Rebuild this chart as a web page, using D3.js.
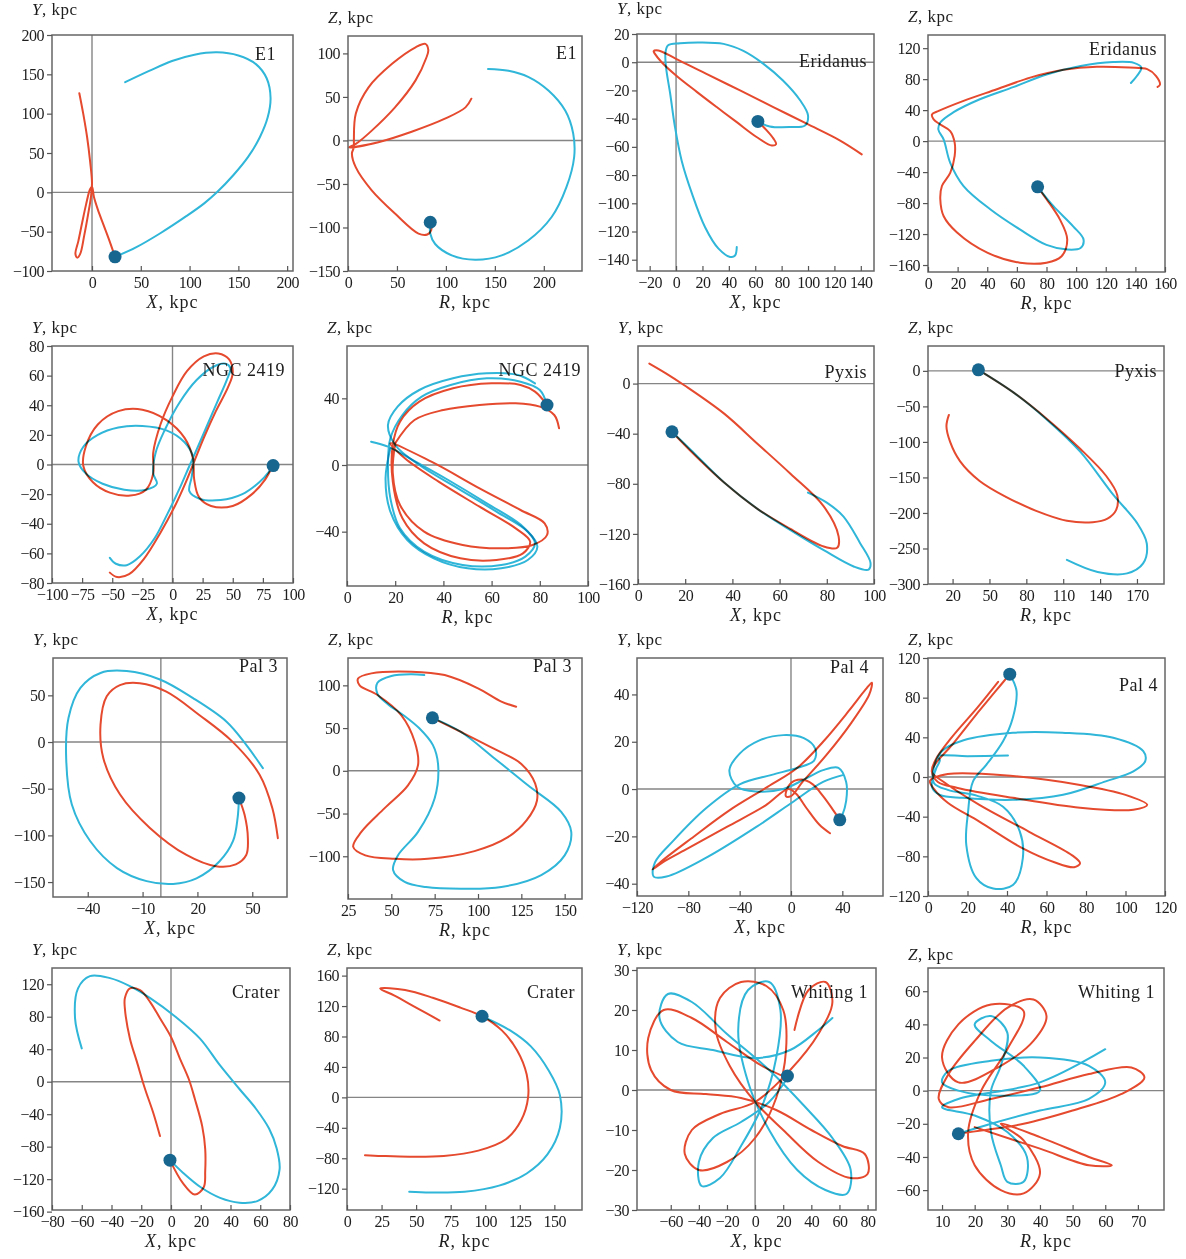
<!DOCTYPE html>
<html lang="en">
<head>
<meta charset="UTF-8">
<title>Orbits of distant globular clusters</title>
<script src="https://d3js.org/d3.v7.min.js"></script>
<style>
  body { margin: 0; background: #fff; }
  svg text { font-family: 'Liberation Serif', 'Times New Roman', serif; fill: #1e1e1e; }
  .frame { fill: none; stroke: #666; stroke-width: 1.5; }
  .zero { stroke: #858585; stroke-width: 1.4; }
  .orbit { fill: none; stroke-width: 2; stroke-linejoin: round; stroke-linecap: round; mix-blend-mode: multiply; }
  .tick line { stroke: #555; stroke-width: 1.2; }
</style>
</head>
<body>
<svg id="chart" width="1186" height="1259"></svg>
<script>
// ---- panel names / planes ----
const panelNames = ["E1", "E1", "Eridanus", "Eridanus", "NGC 2419", "NGC 2419", "Pyxis", "Pyxis",
                    "Pal 3", "Pal 3", "Pal 4", "Pal 4", "Crater", "Crater", "Whiting 1", "Whiting 1"];
const planes = ["XY", "RZ", "XY", "RZ", "XY", "RZ", "XY", "RZ", "XY", "RZ", "XY", "RZ", "XY", "RZ", "XY", "RZ"];

// ---- axis ranges (kpc) ----
const xDomains = [[-41, 206], [0, 239], [-29.6, 150], [0, 160],
                  [-100, 100], [0, 100], [0, 100], [0, 192],
                  [-59, 69], [25, 160], [-120, 71.7], [0, 120],
                  [-80, 80], [0, 170], [-84, 86], [5.7, 78]];
const yDomains = [[-100, 200], [-150, 120], [-148, 20], [-169, 137],
                  [-80, 80], [-72.6, 71.4], [-160, 30], [-300, 35],
                  [-166, 90], [-150, 132], [-45.2, 55.4], [-120, 120],
                  [-158, 140], [-148, 170], [-30, 30.5], [-72, 74]];

// ---- tick labels ----
const xTicks = [[0, 50, 100, 150, 200], [0, 50, 100, 150, 200], [-20, 0, 20, 40, 60, 80, 100, 120, 140], [0, 20, 40, 60, 80, 100, 120, 140, 160],
                [-100, -75, -50, -25, 0, 25, 50, 75, 100], [0, 20, 40, 60, 80, 100], [0, 20, 40, 60, 80, 100], [20, 50, 80, 110, 140, 170],
                [-40, -10, 20, 50], [25, 50, 75, 100, 125, 150], [-120, -80, -40, 0, 40], [0, 20, 40, 60, 80, 100, 120],
                [-80, -60, -40, -20, 0, 20, 40, 60, 80], [0, 25, 50, 75, 100, 125, 150], [-60, -40, -20, 0, 20, 40, 60, 80], [10, 20, 30, 40, 50, 60, 70]];
const yTicks = [[-100, -50, 0, 50, 100, 150, 200], [-150, -100, -50, 0, 50, 100], [-140, -120, -100, -80, -60, -40, -20, 0, 20], [-160, -120, -80, -40, 0, 40, 80, 120],
                [-80, -60, -40, -20, 0, 20, 40, 60, 80], [-40, 0, 40], [-160, -120, -80, -40, 0], [-300, -250, -200, -150, -100, -50, 0],
                [-150, -100, -50, 0, 50], [-100, -50, 0, 50, 100], [-40, -20, 0, 20, 40], [-120, -80, -40, 0, 40, 80, 120],
                [-160, -120, -80, -40, 0, 40, 80, 120], [-120, -80, -40, 0, 40, 80, 120, 160], [-30, -20, -10, 0, 10, 20, 30], [-60, -40, -20, 0, 20, 40, 60]];

// ---- orbits: [x, y] in kpc ----
const e1xyCyan = [[23.6,-82],[45,-70],[70,-52],[97,-30],[115,-14],[128,0],[145,22],[160,45],[172,70],[180,95],[183,120],[179,145],[168,163],[150,174],[128,178],[105,175],[82,167],[58,154],[34,140]];
const e1xyRed = [[23.6,-82],[18,-62],[12,-42],[6,-22],[2,-6],[0,7],[-2,4],[-6,-15],[-10,-38],[-14,-62],[-17,-78],[-15,-83],[-12,-78],[-8,-55],[-4,-28],[-1,-5],[0,12],[-2,40],[-5,70],[-9,100],[-13,126]];
const e1xyDot = [23.6, -82];

const e1rzCyan = [[84,-94],[84,-107],[89,-119],[106,-132],[130,-137],[157,-132],[184,-115],[208,-88],[223,-54],[231,-19],[230,8],[222,34],[205,57],[184,73],[164,80],[143,82]];
const e1rzRed = [[84,-94],[85,-103],[81,-108],[72,-107],[48,-84],[24,-57],[8,-31],[4,-15],[6,-8],[6,0],[8,31],[21,61],[45,88],[69,107],[79,111],[82,104],[80,95],[69,69],[48,38],[24,11],[8,-4],[1,-8],[31,-2],[65,10],[99,25],[120,38],[126,48]];
const e1rzDot = [84, -94];

const eriXyCyan = [[62,-42],[71,-45.5],[86,-46],[97.7,-44.8],[100,-37.7],[94,-27],[81,-13],[66,-1],[51,8],[36,13],[18,14],[3,13.4],[-6,12],[-8,7],[-7.6,-3.5],[-4.5,-22],[-0.8,-46],[4.3,-70],[12,-93],[22,-117],[32,-132],[41,-138],[44.7,-137],[46,-131]];
const eriXyRed = [[62,-42],[68.7,-48.3],[73.7,-54],[75.8,-58],[72.5,-59],[61,-53],[46,-42.5],[30.8,-31.8],[15.7,-21],[0,-9.4],[-10.9,0],[-16,5.9],[-17,7.8],[-13.4,8.3],[0,2.4],[23,-8.3],[48.5,-20],[73.7,-31.8],[99,-43.6],[124,-55.4],[140.7,-65.3]];
const eriXyDot = [62, -42];

const eriRzCyan = [[74,-59],[84.7,-84],[98,-110],[105,-127],[103,-138],[94,-140],[80,-134],[62,-114],[42,-88],[24,-58],[15,-28],[10.6,2],[7,15],[8.3,24],[17,37],[35,54],[58,70],[80,86],[103,97],[125,102],[139,101],[144,95],[141,84],[137,75]];
const eriRzRed = [[74,-59],[80,-75],[89,-101],[94,-127],[90,-149],[80,-157],[62,-157],[40,-144],[19.6,-118],[10.6,-97],[8.3,-75],[9.4,-58],[15,-41],[18,-19],[18,-2],[15,13],[8.3,21.5],[3.8,28],[2.7,34.5],[7.2,39],[24,52],[46.5,67],[69,82],[91.5,92],[114,96],[136,95],[148,93],[154,84],[156.6,73],[155,70]];
const eriRzDot = [74, -59];

const ngcXyCyan = [[-52,-63],[-47,-67],[-38,-68],[-27,-62],[-15,-50],[-4,-33],[6,-16],[14,-1],[20,10],[28,25],[37,42],[45,57],[48,65],[44,68],[34,66],[20,57],[6,42],[-6,24],[-14,8],[-16,-6],[-13,-13],[-22,-17],[-40,-17],[-58,-13],[-72,-6],[-78,2],[-74,12],[-62,20],[-45,25],[-25,26],[-5,23],[10,15],[17,5],[16,-8],[14,-18],[22,-23],[40,-24],[58,-20],[72,-12],[80,-5],[83,-1]];
const ngcXyRed = [[-52,-73],[-46,-76],[-36,-74],[-24,-64],[-10,-46],[2,-28],[11,-12],[18,2],[26,18],[36,36],[46,52],[50,62],[47,71],[38,75],[26,73],[12,63],[0,46],[-10,27],[-16,8],[-16,-6],[-22,-17],[-35,-21],[-52,-19],[-66,-12],[-74,-1],[-72,12],[-62,27],[-45,36],[-25,37],[-5,30],[10,18],[17,4],[18,-10],[22,-22],[32,-28],[50,-28],[66,-20],[77,-10],[83,-1]];
const ngcXyDot = [83.5, -0.7];

const ngcRzCyan = [[83,36],[80,45],[72,50],[58,52],[43,48],[31,41],[23,30],[18,16],[17,0],[18,-20],[22,-38],[32,-52],[48,-60],[64,-60],[74,-55],[78,-47],[73,-37],[58,-23],[42,-9],[26,4],[17,11],[10,14]];
const ngcRzCyan2 = [[18,10],[16,-8],[18,-28],[25,-45],[36,-56],[50,-62],[64,-62],[75,-57],[79,-49],[75,-40],[62,-28],[46,-14],[30,0],[20,12],[17,24],[21,35],[30,45],[44,52],[58,55],[71,54],[78,49]];
const ngcRzRed = [[20,13],[28,27],[40,33],[55,36],[70,37],[80,35],[86,30],[88,22]];
const ngcRzRed2 = [[83,36],[78,44],[72,48],[60,49],[44,46],[30,38],[22,26],[19,12],[19,-10],[23,-32],[32,-47],[47,-56],[62,-57],[73,-53],[76,-46],[70,-38],[55,-25],[38,-10],[24,4],[18,13],[35,2],[55,-14],[72,-27],[82,-35],[83,-42],[77,-48],[65,-50],[48,-48],[32,-40],[22,-24],[19,-5],[20,13]];
const ngcRzDot = [83, 36];

const pyxXyCyan = [[14.4,-38.5],[22.4,-53],[36.5,-79],[50.6,-100],[64.6,-117],[78.7,-133],[91.4,-146],[97.7,-148.5],[98.5,-143],[94,-127],[87,-106],[80,-95],[72,-87]];
const pyxXyRed = [[4.8,16],[12,8],[19.6,-1.3],[36.5,-24],[50.6,-48],[64.6,-72],[78.7,-98],[85,-122],[84.4,-131],[78.7,-130],[64.6,-116],[50.6,-100],[36.5,-79],[22.4,-54],[14.4,-38.5]];
const pyxXyDot = [14.4, -38.5];

const pyxRzCyan = [[41,1.4],[70,-31],[97,-69],[124,-114],[151,-175],[170,-214],[178,-243],[175,-271],[162,-285],[138,-283],[113,-266]];
const pyxRzRed = [[41,1.4],[70,-31],[97,-68],[124,-110],[145,-148],[154,-175],[153,-196],[146,-208],[134,-213],[113,-211],[88,-197],[63,-177],[42,-155],[26,-127],[18,-100],[15,-78],[17,-62]];
const pyxRzDot = [41, 1.4];

const pal3XyCyan = [[42.7,-60],[42,-81],[39.5,-106],[32,-128],[19.5,-146],[6.7,-152],[-7.8,-149],[-24,-135],[-38.7,-106],[-48.7,-67],[-51.8,-17],[-50.5,26],[-44,58],[-33,74],[-18.7,76],[-0.5,67],[17.6,47],[35.8,22],[46.7,-3],[55.8,-28]];
const pal3XyRed = [[42.7,-60],[45.8,-78],[47.6,-103],[46.7,-121],[41,-131],[30,-133],[14,-121],[-6,-92],[-22.4,-56],[-31.5,-17],[-33,18.6],[-29.6,49],[-22.4,61],[-11.5,63],[3,54],[21,29],[39,0.7],[54,-35],[61,-71],[64,-103]];
const pal3XyDot = [42.7, -60];

const pal3RzCyan = [[73.7,62],[90,45.7],[109.6,14.5],[128.8,-17],[148,-48],[153.8,-71.5],[150,-99],[136.5,-122],[113.5,-136],[90,-138],[70,-136],[57.7,-130],[51,-116],[53.8,-99],[65.4,-71.5],[75,-32],[77,6.6],[74,30],[66,50],[57,65],[48,78],[42,90],[42,103],[50,111],[61.5,113],[69,112]];
const pal3RzRed = [[73.7,62],[90,45.7],[110,25],[125,8],[133,-15],[134,-35],[128,-58],[117,-78],[98,-94],[71,-103],[52,-103],[35,-99],[28,-89],[32.7,-71.5],[46,-44],[59.6,-17],[65.4,6.6],[63.5,34],[55.8,65],[42,88.7],[31.7,100],[30.8,108],[38.5,114],[61.5,116],[80.8,112],[100,96.5],[113.5,81],[122,75]];
const pal3RzDot = [73.7, 62];

const pal4XyCyan = [[41,6],[25,3],[0,-6],[-27,-16],[-66,-29],[-97,-37],[-107,-37],[-106,-31],[-92,-22],[-66,-8],[-40,2],[-15,6],[5,9],[18,12],[19,17],[10,21.5],[-6,22.8],[-25,20.5],[-40,15],[-48,8],[-42,1],[-27,-1],[-6,0],[10,4],[25,8],[37,9],[43,3],[43,-5],[40,-11],[38,-13]];
const pal4XyRed = [[30.4,-18.7],[22,-15],[12,-8],[4,-2],[-2,0],[-20,-7],[-50,-16],[-80,-25],[-100,-31],[-108,-34],[-102,-31],[-78,-21],[-48,-9],[-18,1],[5,9],[25,20],[45,33],[58,42],[63,45],[61,40],[47,28],[27,14],[9,3],[0,-3],[-4,-3],[-1,2],[8,4],[17,2],[25,-3],[33,-9],[38,-13]];
const pal4XyDot = [38, -13];

const pal4RzCyan = [[41.4,103.7],[44.8,87],[43,60],[38,36],[29.6,12.5],[22.8,-4.4],[20.3,-35],[19.4,-68.6],[24.5,-102],[33,-112.5],[43,-109],[48,-82],[46.5,-55],[38,-30],[25,-19],[10,-13],[3,-6],[3,10],[7,26],[18,37],[43,44.6],[68,44.6],[93.8,39.5],[109,26],[110,16],[104,5.7],[90,-4.4],[68.4,-18],[43,-23],[17.7,-21],[6,-18],[2,-10],[4,8],[6,17],[5,21],[20,21],[40.5,21.6]];
const pal4RzRed = [[35.5,96],[25,70],[12,40],[4,18],[2,5],[8,-5],[26,-28],[51,-55],[73,-79],[77,-87],[74,-91],[64,-86],[48,-72],[26,-45],[10,-26],[3,-12],[1,-4],[10,3],[43,1],[77,-8],[100,-18],[111,-28],[104,-33],[77,-31],[43,-21],[15,-11],[5,-5],[2,5],[4,14],[12,32],[24,62],[34,86],[41.4,103.7]];
const pal4RzDot = [41.4, 103.7];

const craXyCyan = [[-0.7,-96.6],[8,-112],[20,-130],[33,-143],[46,-149],[58,-147],[68,-133],[73,-108],[71,-82],[66,-58],[57,-33],[46,-9],[33,20],[19.5,53],[3,80],[-14,103],[-28,118],[-41,127.5],[-54.5,130],[-62.5,115],[-64.5,78],[-60,41]];
const craXyRed = [[-7.4,-67],[-12,-38],[-17.5,-8.7],[-23,25],[-27.6,53],[-31,90],[-31,103],[-27.6,115],[-20.8,112.7],[-14,98],[-7.4,78],[0,55],[6,28.5],[12,3],[16,-21],[21,-55],[23,-83],[23,-110],[22,-130],[16,-139],[8,-125],[-0.7,-96.6]];
const craXyDot = [-0.7, -96.6];

const craRzCyan = [[97.7,106.6],[118,88],[133,67],[146,35],[154,3],[154,-40],[145,-75],[130,-100],[110,-116],[85,-124],[60,-125],[45,-124]];
const craRzRed = [[67,101],[50,118],[34,134],[24,143],[42,141],[62,131],[82,118],[97.7,106.6],[112,88],[123,62],[130,30],[131,0],[126,-30],[115,-55],[95,-70],[70,-77],[45,-78],[25,-77],[13,-76]];
const craRzDot = [97.7, 106.6];

const whiXyCyan = [[23,3],[10,-3],[-10,-8],[-30,-12],[-40,-18],[-38,-24],[-25,-22],[-10,-14],[5,-4],[15,8],[18,20],[10,27],[-5,25],[-12,15],[-5,2],[10,-10],[30,-20],[50,-25],[65,-26],[68,-20],[55,-12],[35,-4],[10,5],[-20,14],[-45,22],[-62,24],[-68,18],[-55,12],[-30,10],[0,8],[25,10],[45,15],[55,18]];
const whiXyRed = [[23,3],[5,6],[-20,12],[-45,18],[-65,20],[-76,13],[-74,5],[-60,0],[-35,-1],[-10,-2],[15,-5],[40,-10],[62,-14],[78,-16],[80,-21],[68,-22],[45,-18],[20,-10],[0,-3],[-18,6],[-28,15],[-25,23],[-10,27],[8,26],[20,20],[22,10],[15,-2],[0,-12],[-20,-18],[-40,-20],[-50,-16],[-45,-10],[-25,-6],[0,-3],[25,5],[45,14],[55,22],[50,27],[38,25],[28,15]];
const whiXyDot = [23, 3.5];

const whiRzCyan = [[15,-26],[25,-20],[40,-12],[55,-5],[60,5],[55,15],[40,20],[25,18],[12,12],[10,5],[15,0],[28,-3],[40,0],[35,15],[25,30],[20,40],[25,45],[30,35],[28,15],[25,0],[25,-25],[28,-45],[30,-55],[35,-55],[36,-40],[30,-25],[20,-15],[10,-10],[15,-5],[40,5],[60,25]];
const whiRzRed = [[15,-26],[22,-24],[35,-20],[50,-12],[65,-2],[72,8],[68,14],[55,10],[40,2],[25,-5],[12,-10],[9,-5],[12,10],[20,30],[30,50],[38,55],[42,45],[38,30],[28,15],[15,5],[10,20],[15,40],[25,52],[35,48],[30,25],[22,0],[18,-25],[20,-45],[28,-60],[35,-62],[40,-50],[35,-30],[28,-20],[40,-28],[55,-40],[62,-45],[55,-45],[40,-35],[20,-22]];
const whiRzDot = [15, -26];

const redPaths = [[e1xyRed], [e1rzRed], [eriXyRed], [eriRzRed], [ngcXyRed], [ngcRzRed, ngcRzRed2], [pyxXyRed], [pyxRzRed],
                  [pal3XyRed], [pal3RzRed], [pal4XyRed], [pal4RzRed], [craXyRed], [craRzRed], [whiXyRed], [whiRzRed]];
const cyanPaths = [[e1xyCyan], [e1rzCyan], [eriXyCyan], [eriRzCyan], [ngcXyCyan], [ngcRzCyan, ngcRzCyan2], [pyxXyCyan], [pyxRzCyan],
                   [pal3XyCyan], [pal3RzCyan], [pal4XyCyan], [pal4RzCyan], [craXyCyan], [craRzCyan], [whiXyCyan], [whiRzCyan]];
const dots = [e1xyDot, e1rzDot, eriXyDot, eriRzDot, ngcXyDot, ngcRzDot, pyxXyDot, pyxRzDot,
              pal3XyDot, pal3RzDot, pal4XyDot, pal4RzDot, craXyDot, craRzDot, whiXyDot, whiRzDot];

// ---- layout: frame [left, top, right, bottom] per panel, label placement ----
const boxes = [[52, 35, 293, 271], [348, 36, 582, 271], [637, 34, 874, 271], [928, 35, 1165, 272],
               [52, 346, 293, 583], [347, 346, 588, 586], [638, 346, 874, 584], [928, 346, 1164, 584],
               [53, 658, 287, 897], [348, 658, 582, 899], [637, 658, 883, 896], [928, 658, 1165, 896],
               [52, 968, 290, 1210], [347, 968, 582, 1210], [637, 968, 876, 1210], [928, 968, 1164, 1210]];
const labelDy = [25, 23, 33, 20, 30, 30, 32, 31, 14, 14, 15, 33, 30, 30, 30, 30];
const labelInset = [17, 5, 7, 8, 8, 7, 7, 7, 9, 10, 14, 7, 10, 7, 8, 9];
const yTitleDy = [20, 13, 20, 13, 13, 13, 13, 13, 13, 13, 13, 13, 13, 13, 13, 8];

const RED = "#e5492e", CYAN = "#2fb6d8", DOT = "#17668f";

const svg = d3.select("#chart");
const fmt = d => d < 0 ? "\u2212" + Math.abs(d) : String(d);
const line = d3.line().curve(d3.curveCatmullRom.alpha(0.5));

panelNames.forEach((name, i) => {
    const b = boxes[i];
    const x = d3.scaleLinear().domain(xDomains[i]).range([b[0], b[2]]);
    const y = d3.scaleLinear().domain(yDomains[i]).range([b[3], b[1]]);
    const g = svg.append("g");

    g.append("clipPath").attr("id", "clip" + i)
        .append("rect").attr("x", b[0]).attr("y", b[1]).attr("width", b[2] - b[0]).attr("height", b[3] - b[1]);

    // zero lines
    if (xDomains[i][0] < 0 && xDomains[i][1] > 0)
        g.append("line").attr("class", "zero").attr("x1", x(0)).attr("x2", x(0)).attr("y1", b[1]).attr("y2", b[3]);
    if (yDomains[i][0] < 0 && yDomains[i][1] > 0)
        g.append("line").attr("class", "zero").attr("x1", b[0]).attr("x2", b[2]).attr("y1", y(0)).attr("y2", y(0));

    const plot = g.append("g").attr("clip-path", `url(#clip${i})`).style("isolation", "isolate");
    line.x(d => x(d[0])).y(d => y(d[1]));
    redPaths[i].forEach(p => plot.append("path").attr("class", "orbit").attr("stroke", RED).attr("d", line(p)));
    cyanPaths[i].forEach(p => plot.append("path").attr("class", "orbit").attr("stroke", CYAN).attr("d", line(p)));
    plot.append("circle").attr("cx", x(dots[i][0])).attr("cy", y(dots[i][1])).attr("r", 6.5).attr("fill", DOT);

    g.append("rect").attr("class", "frame")
        .attr("x", b[0]).attr("y", b[1]).attr("width", b[2] - b[0]).attr("height", b[3] - b[1]);

    // axes
    const ax = g.append("g").attr("transform", `translate(0,${b[3]})`)
        .call(d3.axisBottom(x).tickValues(xTicks[i]).tickFormat(fmt).tickSizeInner(-5).tickSizeOuter(0).tickPadding(6));
    const ay = g.append("g").attr("transform", `translate(${b[0]},0)`)
        .call(d3.axisLeft(y).tickValues(yTicks[i]).tickFormat(fmt).tickSizeInner(5).tickSizeOuter(0).tickPadding(3));
    [ax, ay].forEach(a => {
        a.select(".domain").remove();
        a.selectAll("text").attr("font-size", 16).attr("letter-spacing", "-0.5px")
            .attr("font-family", "'Liberation Serif', serif").attr("fill", "#1e1e1e");
    });

    // titles
    const xl = planes[i] === "XY" ? "X" : "R";
    const yl = planes[i] === "XY" ? "Y" : "Z";
    const xt = g.append("text").attr("x", (b[0] + b[2]) / 2).attr("y", b[3] + 37)
        .attr("text-anchor", "middle").attr("font-size", 18).attr("letter-spacing", "1px");
    xt.append("tspan").attr("font-style", "italic").text(xl);
    xt.append("tspan").text(", kpc");
    const yt = g.append("text").attr("x", b[0] - 20).attr("y", b[1] - yTitleDy[i])
        .attr("font-size", 17).attr("letter-spacing", "0.5px");
    yt.append("tspan").attr("font-style", "italic").text(yl);
    yt.append("tspan").text(", kpc");

    g.append("text").attr("x", b[2] - labelInset[i]).attr("y", b[1] + labelDy[i])
        .attr("text-anchor", "end").attr("font-size", 18).attr("letter-spacing", "0.5px").text(name);
});
</script>
</body>
</html>
